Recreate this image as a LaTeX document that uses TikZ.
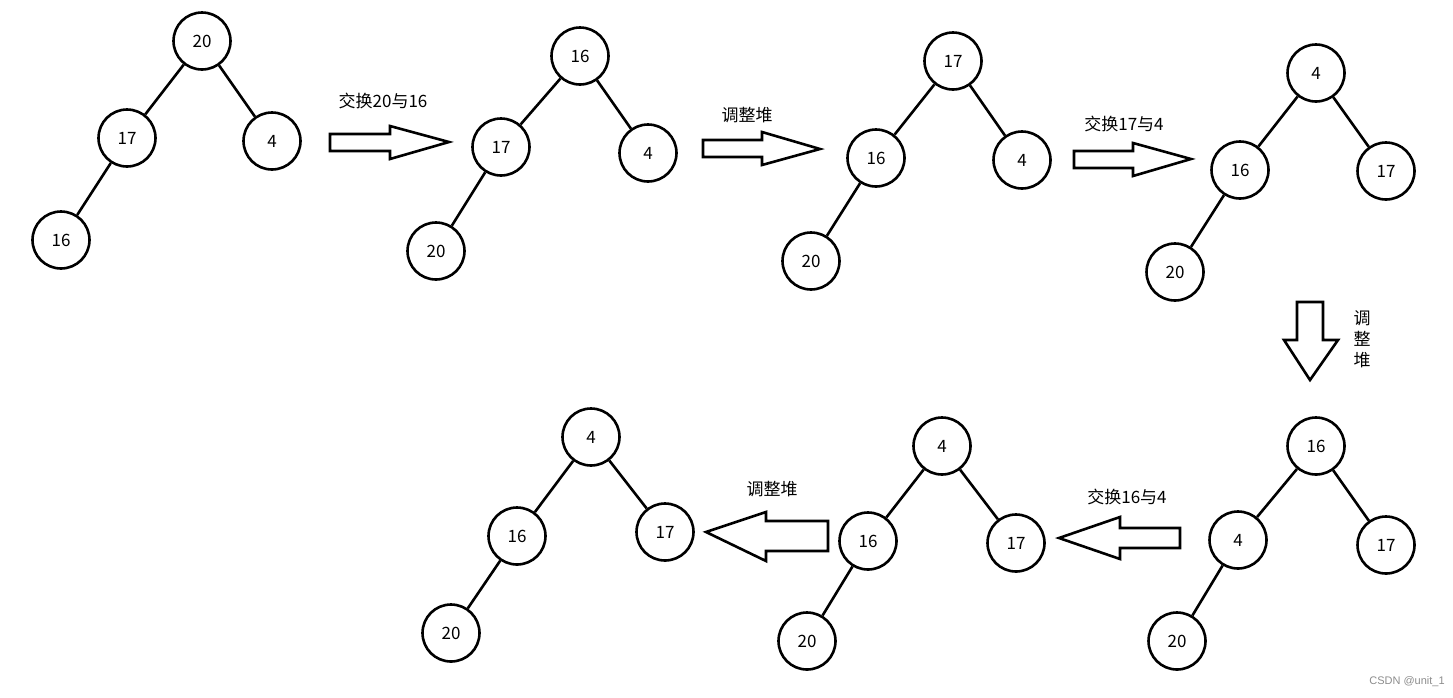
\documentclass[tikz,border=0pt]{standalone}
\usepackage{fontspec}
\setmainfont{Noto Sans CJK SC}
\newfontfamily\wmfont{Liberation Sans}
\begin{document}
\begin{tikzpicture}[x=1pt,y=-1pt,
  hn/.style={circle,draw,line width=2.6pt,minimum size=57pt,inner sep=0pt,font=\fontsize{17}{19}\selectfont},
  ed/.style={line width=2.6pt},
  barrow/.style={draw,line width=2.6pt,line join=miter},
  lab/.style={font=\fontsize{17}{19}\selectfont,inner sep=0pt}]
\useasboundingbox (0,0) rectangle (1453,697);
% tree 1
\node[hn] (a1) at (202,41) {20};
\node[hn] (a2) at (127,138) {17};
\node[hn] (a3) at (272,141) {4};
\node[hn] (a4) at (61,240) {16};
\draw[ed] (a1)--(a2) (a1)--(a3) (a2)--(a4);
% tree 2
\node[hn] (b1) at (580,56) {16};
\node[hn] (b2) at (501,147) {17};
\node[hn] (b3) at (648,153) {4};
\node[hn] (b4) at (436,251) {20};
\draw[ed] (b1)--(b2) (b1)--(b3) (b2)--(b4);
% tree 3
\node[hn] (c1) at (953,61) {17};
\node[hn] (c2) at (876,158) {16};
\node[hn] (c3) at (1022,160) {4};
\node[hn] (c4) at (811,261) {20};
\draw[ed] (c1)--(c2) (c1)--(c3) (c2)--(c4);
% tree 4
\node[hn] (d1) at (1316,73) {4};
\node[hn] (d2) at (1240,170) {16};
\node[hn] (d3) at (1386,171) {17};
\node[hn] (d4) at (1175,272) {20};
\draw[ed] (d1)--(d2) (d1)--(d3) (d2)--(d4);
% tree 5
\node[hn] (e1) at (1316,446) {16};
\node[hn] (e2) at (1238,540) {4};
\node[hn] (e3) at (1386,545) {17};
\node[hn] (e4) at (1177,641) {20};
\draw[ed] (e1)--(e2) (e1)--(e3) (e2)--(e4);
% tree 6
\node[hn] (f1) at (942,446) {4};
\node[hn] (f2) at (868,541) {16};
\node[hn] (f3) at (1016,543) {17};
\node[hn] (f4) at (807,641) {20};
\draw[ed] (f1)--(f2) (f1)--(f3) (f2)--(f4);
% tree 7
\node[hn] (g1) at (591,437) {4};
\node[hn] (g2) at (517,536) {16};
\node[hn] (g3) at (665,532) {17};
\node[hn] (g4) at (451,633) {20};
\draw[ed] (g1)--(g2) (g1)--(g3) (g2)--(g4);
% block arrows
\draw[barrow] (330,134)--(390,134)--(390,126)--(449,142)--(390,159)--(390,151)--(330,151)--cycle;
\node[lab] (t1) at (383,101) {交换20与16};
\draw[barrow] (703,140)--(762,140)--(762,132)--(820,149)--(762,165)--(762,157)--(703,157)--cycle;
\node[lab] (t2) at (747,115) {调整堆};
\draw[barrow] (1074,151)--(1133,151)--(1133,143)--(1191,159)--(1133,176)--(1133,168)--(1074,168)--cycle;
\node[lab] (t3) at (1124,124) {交换17与4};
\draw[barrow] (1297,302)--(1323,302)--(1323,340)--(1338,340)--(1310,380)--(1284,340)--(1297,340)--cycle;
\node[lab] at (1362,318) {调};
\node[lab] at (1362,339) {整};
\node[lab] at (1362,360) {堆};
\draw[barrow] (1180,528)--(1120,528)--(1120,517)--(1059,538)--(1120,559)--(1120,548)--(1180,548)--cycle;
\node[lab] (t5) at (1127,497) {交换16与4};
\draw[barrow] (828,521)--(766,521)--(766,512)--(706,532)--(766,561)--(766,551)--(828,551)--cycle;
\node[lab] (t6) at (772,489) {调整堆};
\node[font=\wmfont\fontsize{11}{13}\selectfont,text=black!45,inner sep=0pt] (wm) at (1407,682) {CSDN @unit\_1};
\end{tikzpicture}
\end{document}
